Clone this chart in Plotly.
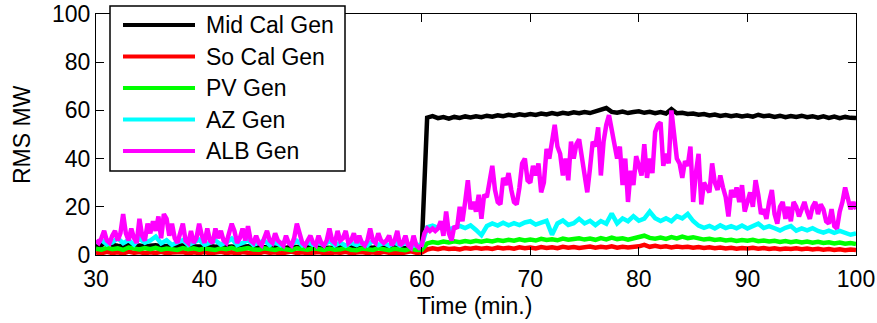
import numpy as np
import plotly.graph_objects as go

# ---- data: RMS generation swing (MW) vs. time (min) ----
T_START, T_END = 30.0, 100.0

# ALB generation, sampled every 0.25 min
alb_gen = [
    6, 5, 7, 10, 6, 5, 8, 10, 6, 9,
    17, 9, 6, 11, 7, 5, 15, 8, 6, 13,
    9, 14, 10, 16, 7, 17, 15, 8, 13, 7,
    5, 9, 13, 6, 5, 10, 5, 7, 13, 8,
    5, 11, 6, 5, 11, 7, 10, 6, 5, 9,
    13, 10, 5, 7, 11, 6, 12, 6, 5, 8,
    5, 4, 7, 10, 6, 5, 9, 6, 5, 4,
    8, 5, 4, 7, 13, 8, 5, 4, 6, 8,
    5, 4, 8, 5, 4, 6, 11, 6, 5, 10,
    6, 7, 10, 5, 6, 9, 5, 8, 5, 4,
    6, 11, 6, 5, 9, 6, 5, 6, 8, 4,
    6, 10, 4, 5, 8, 4, 3, 8, 4, 3,
    4, 9, 11, 10, 11, 10, 11, 14, 8, 18,
    9, 6, 12, 11, 20, 14, 22, 31, 19, 22,
    18, 25, 15, 25, 24, 30, 37, 27, 22, 21,
    32, 29, 34, 27, 22, 21, 28, 38, 40, 31,
    30, 37, 33, 38, 26, 30, 44, 40, 47, 54,
    45, 42, 33, 40, 31, 47, 40, 46, 48, 40,
    34, 26, 36, 47, 45, 53, 33, 47, 54, 58,
    52, 45, 40, 45, 29, 40, 22, 35, 29, 41,
    37, 33, 46, 32, 40, 34, 51, 54, 55, 37,
    42, 38, 60, 48, 40, 38, 32, 39, 37, 45,
    22, 34, 42, 21, 30, 28, 26, 38, 30, 27,
    33, 28, 24, 16, 27, 24, 28, 22, 29, 18,
    22, 26, 20, 31, 25, 17, 19, 15, 22, 27,
    17, 13, 20, 22, 15, 20, 14, 22, 20, 16,
    19, 22, 18, 15, 20, 22, 17, 21, 19, 14,
    13, 19, 12, 11, 18, 22, 28, 24, 19, 22,
    19,
]

# the remaining series, sampled every 0.5 min
az_gen = [
    5.0, 6.1, 4.4, 5.2, 7.0, 4.9, 6.2, 4.3, 6.8, 5.1,
    6.0, 7.6, 4.8, 6.1, 4.2, 5.3, 6.2, 4.1, 5.0, 6.3,
    4.2, 5.1, 6.0, 4.3, 5.2, 6.8, 4.1, 5.0, 6.1, 4.2,
    5.1, 6.0, 4.1, 5.2, 4.0, 6.1, 4.2, 5.9, 4.0, 5.1,
    4.2, 5.0, 4.1, 5.8, 4.0, 5.1, 3.9, 5.0, 4.1, 5.2,
    4.0, 5.9, 4.1, 5.0, 3.9, 5.2, 4.0, 5.1, 3.4, 4.2,
    4.0, 11.5, 12.2, 11.3, 12.0, 10.6, 11.4, 12.1, 11.2, 12.3,
    10.4, 8.2, 12.0, 13.1, 12.2, 13.4, 12.3, 13.2, 12.4, 13.5,
    14.0, 12.6, 13.4, 14.2, 8.4, 13.1, 14.3, 12.5, 13.2, 15.0,
    13.1, 14.2, 12.4, 14.1, 13.0, 17.2, 13.1, 15.2, 14.0, 16.1,
    14.2, 15.1, 18.0, 15.3, 14.1, 15.2, 14.0, 16.1, 15.2, 17.0,
    14.1, 12.2, 11.3, 12.1, 11.0, 12.3, 11.2, 12.0, 11.1, 12.2,
    11.0, 12.1, 13.0, 11.2, 12.0, 11.1, 10.2, 11.3, 12.0, 10.1,
    11.0, 10.2, 11.1, 10.0, 9.3, 10.1, 9.2, 10.0, 9.1, 8.4,
    9.0,
]

pv_gen = [
    2.6, 2.2, 3.0, 2.4, 2.8, 2.1, 3.1, 2.7, 2.3, 2.9,
    2.4, 3.0, 2.2, 2.7, 2.3, 2.1, 2.9, 2.4, 2.8, 2.2,
    2.7, 2.3, 2.1, 2.8, 2.4, 3.0, 2.2, 2.5, 2.9, 2.3,
    2.2, 2.8, 2.3, 2.1, 2.7, 2.3, 2.0, 2.8, 2.4, 2.2,
    2.8, 2.3, 2.1, 2.7, 2.2, 2.4, 2.9, 2.2, 2.0, 2.7,
    2.3, 2.1, 2.8, 2.2, 2.0, 2.6, 2.2, 2.0, 2.7, 2.1,
    2.2, 4.8, 5.4, 5.0, 5.6, 5.2, 5.7, 5.3, 5.8, 5.4,
    5.9, 5.5, 6.0, 5.6, 6.2, 5.8, 6.3, 5.9, 6.5, 6.0,
    6.4, 6.0, 6.7, 6.2, 6.5, 6.1, 6.8, 6.3, 6.6, 6.9,
    6.4, 6.8, 6.3, 7.0, 6.5, 7.2, 6.6, 6.9, 6.4, 7.0,
    7.3, 8.0, 7.1, 6.8, 7.2, 6.7, 7.4, 6.9, 7.6, 7.0,
    7.4, 6.8, 6.4, 6.7, 6.2, 6.5, 6.0, 6.3, 5.8, 6.2,
    5.9, 6.3, 5.7, 6.0, 5.6, 5.9, 5.4, 5.8, 5.3, 5.7,
    5.2, 5.6, 5.1, 5.5, 5.0, 5.3, 4.8, 5.2, 4.7, 5.0,
    4.6,
]

so_cal_gen = [
    1.0, 0.7, 1.3, 0.8, 1.1, 0.6, 1.4, 0.9, 1.2, 0.7,
    1.1, 0.8, 1.3, 0.7, 1.0, 0.9, 1.2, 0.6, 1.1, 0.8,
    1.2, 0.7, 1.0, 1.3, 0.8, 1.1, 0.6, 1.2, 0.9, 1.0,
    0.7, 1.3, 0.9, 1.1, 0.6, 1.0, 1.4, 0.8, 1.1, 0.7,
    1.0, 1.2, 0.8, 0.6, 1.1, 0.9, 1.3, 0.7, 1.0, 1.2,
    0.8, 1.1, 0.7, 1.3, 0.9, 1.0, 0.6, 1.2, 1.5, 0.9,
    1.0, 2.3, 2.8, 2.4, 2.9, 2.5, 2.7, 2.3, 2.9, 2.6,
    3.0, 2.6, 2.9, 2.5, 3.1, 2.7, 3.0, 2.6, 3.2, 2.8,
    3.1, 2.7, 3.3, 2.9, 3.2, 2.8, 3.4, 3.0, 3.3, 2.9,
    3.2, 3.5, 3.0, 3.4, 3.1, 3.6, 3.0, 3.4, 3.1, 3.3,
    3.6, 4.2, 3.4, 3.8, 3.3, 3.6, 3.1, 3.5, 3.2, 3.4,
    3.0, 3.3, 2.9, 3.2, 2.8, 3.1, 2.7, 3.0, 2.6, 2.9,
    2.7, 3.0, 2.6, 2.9, 2.5, 2.8, 2.4, 2.7, 2.5, 2.8,
    2.4, 2.7, 2.3, 2.6, 2.2, 2.5, 2.1, 2.4, 2.0, 2.3,
    2.1,
]

mid_cal_gen = [
    3.6, 4.0, 6.0, 4.2, 3.8, 3.6, 4.1, 3.7, 3.9, 3.5,
    3.8, 4.0, 3.6, 3.7, 3.4, 3.6, 3.9, 4.0, 3.5, 3.3,
    3.5, 3.7, 3.4, 3.6, 3.3, 3.5, 3.2, 3.4, 3.6, 3.3,
    3.2, 3.4, 3.1, 3.3, 3.2, 3.0, 3.3, 3.1, 3.3, 3.2,
    3.1, 3.3, 3.0, 3.2, 2.9, 3.2, 3.0, 3.3, 3.1, 2.9,
    3.2, 3.0, 3.3, 3.1, 2.9, 3.2, 3.0, 2.8, 3.1, 2.9,
    3.0, 57.0, 57.6, 56.8, 57.2, 56.6, 57.3, 56.9, 57.5, 57.1,
    57.6, 57.2, 57.8, 57.4, 58.0, 57.6, 58.2, 57.8, 58.4, 58.0,
    58.5, 58.1, 58.7, 58.3, 58.9, 58.4, 59.0, 58.6, 59.2, 58.8,
    59.3, 58.9, 59.5, 60.0, 61.0, 59.4, 59.0, 59.5, 58.9, 59.3,
    59.6, 59.0, 59.4, 58.8, 59.3, 58.7, 60.5, 58.8, 59.0, 58.5,
    58.7, 58.2, 58.5, 57.9, 58.3, 57.7, 58.1, 57.6, 58.0, 57.5,
    57.9, 57.4, 58.2, 57.6, 57.9, 57.3, 57.8, 57.2, 57.7, 57.3,
    57.8, 57.2, 57.6, 57.0, 57.5, 56.9, 57.4, 56.8, 57.3, 56.9,
    56.8,
]

series_names = ["Mid Cal Gen", "So Cal Gen", "PV Gen", "AZ Gen", "ALB Gen"]
series_values = [mid_cal_gen, so_cal_gen, pv_gen, az_gen, alb_gen]
series_colors = ["#000000", "#ff0000", "#00ff00", "#00ffff", "#ff00ff"]

x_ticks = [30, 40, 50, 60, 70, 80, 90, 100]
y_ticks = [0, 20, 40, 60, 80, 100]

# ---- figure geometry (pixels) ----
W, H = 877, 323
M_L, M_R, M_T, M_B = 96, 21, 14, 68
PW, PH = W - M_L - M_R, H - M_T - M_B
FONT = "Liberation Sans, Arial, Helvetica, sans-serif"
FS = 23


def px_x(px):
    return (px - M_L) / PW


def px_y(py):
    return (H - M_B - py) / PH


fig = go.Figure()
for name, vals, color in zip(series_names, series_values, series_colors):
    t = np.linspace(T_START, T_END, len(vals))
    fig.add_trace(go.Scatter(x=t, y=vals, mode="lines", name=name,
                             line=dict(color=color, width=4.5),
                             showlegend=False))

axis_common = dict(showline=True, linecolor="black", linewidth=1,
                   mirror="ticks", ticks="inside", ticklen=8, tickwidth=1,
                   tickcolor="black", showgrid=False, zeroline=False,
                   automargin=False,
                   tickfont=dict(family=FONT, size=FS, color="black"))
fig.update_xaxes(range=[T_START, T_END], tickvals=x_ticks,
                 ticklabelstandoff=3, **axis_common)
fig.update_yaxes(range=[0, 100], tickvals=y_ticks, **axis_common)

shapes = []
annotations = []

# legend box with line samples
shapes.append(dict(type="rect", xref="paper", yref="paper",
                   x0=px_x(110), x1=px_x(345), y0=px_y(171), y1=px_y(6),
                   line=dict(color="black", width=1.5), fillcolor="white",
                   layer="above"))
legend_rows = [25, 56.5, 88, 119.5, 151]
for name, color, ry in zip(series_names, series_colors, legend_rows):
    shapes.append(dict(type="line", xref="paper", yref="paper",
                       x0=px_x(123), x1=px_x(195), y0=px_y(ry), y1=px_y(ry),
                       line=dict(color=color, width=4), layer="above"))
    annotations.append(dict(text=name, xref="paper", yref="paper",
                            x=px_x(204), y=px_y(ry), xanchor="left",
                            yanchor="middle", showarrow=False,
                            font=dict(family=FONT, size=FS, color="black")))

# axis titles
annotations.append(dict(text="Time (min.)", xref="paper", yref="paper",
                        x=px_x(474), y=px_y(306), xanchor="center",
                        yanchor="middle", showarrow=False,
                        font=dict(family=FONT, size=FS, color="black")))
annotations.append(dict(text="RMS MW", xref="paper", yref="paper",
                        x=px_x(22), y=px_y(135), xanchor="center",
                        yanchor="middle", textangle=-90, showarrow=False,
                        font=dict(family=FONT, size=FS, color="black")))

fig.update_layout(template="none", width=W, height=H,
                  margin=dict(l=M_L, r=M_R, t=M_T, b=M_B, pad=0,
                              autoexpand=False),
                  paper_bgcolor="white", plot_bgcolor="white",
                  font=dict(family=FONT, size=FS, color="black"),
                  shapes=shapes, annotations=annotations,
                  showlegend=False)

fig.write_html("out.html")
